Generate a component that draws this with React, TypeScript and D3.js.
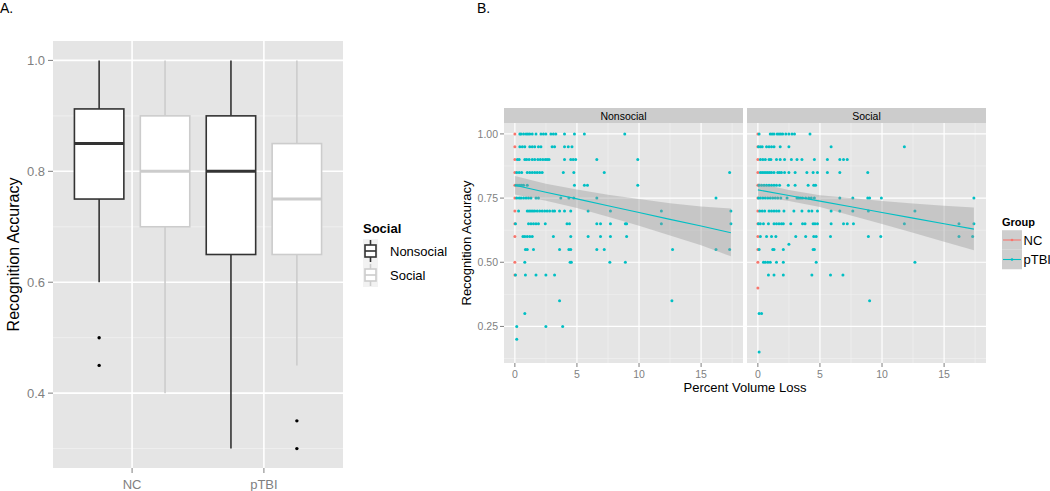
import React from "react";
import * as d3 from "d3";

// ---------- Panel A data (boxplots) ----------
const groupsA = ["NC", "pTBI"];
const socialLevels = ["Nonsocial", "Social"];
// order: NC-Nonsocial, NC-Social, pTBI-Nonsocial, pTBI-Social
const boxLow = [0.6, 0.4, 0.3, 0.45];
const boxQ1 = [0.75, 0.7, 0.65, 0.65];
const boxMed = [0.85, 0.8, 0.8, 0.75];
const boxQ3 = [0.9125, 0.9, 0.9, 0.85];
const boxHigh = [1.0, 1.0, 1.0, 1.0];
const boxOutliers = [[0.5, 0.45], [], [], [0.35, 0.3]];
const yTicksA = [0.4, 0.6, 0.8, 1.0];
const yMinorA = [0.3, 0.5, 0.7, 0.9];

// ---------- Panel B data (scatter) ----------
const facets = ["Nonsocial", "Social"];
const groupsB = ["NC", "pTBI"];
const nonsocialNC = [1.0, 0.95, 0.9, 0.85, 0.8, 0.75, 0.7, 0.65, 0.6, 0.5, 0.45];
const socialNC = [1.0, 0.95, 0.9, 0.85, 0.8, 0.75, 0.7, 0.65, 0.6, 0.55, 0.5, 0.4];
const nonsocialPTBI: [number, number[]][] = [
  [1.0, [0.4, 0.5, 0.7, 0.9, 1.05, 1.2, 1.4, 1.7, 2.1, 2.3, 2.5, 2.9, 3.1, 3.3, 4.0, 4.8, 5.6, 8.85]],
  [0.95, [0.4, 0.6, 0.8, 1.2, 1.4, 1.6, 1.9, 2.1, 3.0, 3.2, 4.0, 4.3, 4.6]],
  [0.9, [0.2, 0.35, 0.8, 0.95, 1.15, 1.4, 1.6, 1.85, 2.05, 2.25, 2.45, 2.6, 2.75, 4.0, 4.5, 4.7, 4.9, 6.6, 9.9]],
  [0.85, [0.15, 0.35, 0.55, 1.0, 1.2, 1.4, 1.6, 1.8, 2.0, 2.2, 3.9, 4.75, 7.2, 17.3]],
  [0.8, [0.1, 0.25, 0.4, 0.55, 0.7, 1.0, 4.8, 5.6, 5.85, 9.9]],
  [0.75, [0.15, 0.35, 0.5, 0.7, 0.9, 1.1, 1.3, 1.7, 1.9, 3.7, 4.35, 4.75, 6.6, 16.2]],
  [0.7, [0.3, 1.0, 1.15, 1.3, 1.45, 1.6, 1.8, 2.0, 2.2, 2.4, 2.6, 2.8, 3.05, 3.2, 3.6, 4.0, 4.5, 5.9, 7.7, 11.8, 17.4]],
  [0.65, [0.05, 1.1, 1.3, 1.5, 1.7, 1.9, 2.45, 4.2, 4.4, 6.6, 6.9, 7.7, 8.9, 9.0, 11.8, 17.4]],
  [0.6, [0.65, 0.8, 1.0, 1.2, 1.4, 3.1, 4.5, 5.9, 6.9, 7.7, 9.0]],
  [0.55, [0.85, 1.0, 1.5, 3.6, 4.35, 4.5, 6.6, 7.2, 12.7, 16.2, 17.3]],
  [0.5, [0.8, 4.45, 4.55, 7.65, 8.9]],
  [0.45, [0.05, 0.85, 1.7, 2.5, 3.2]],
  [0.35, [3.6, 12.65]],
  [0.3, [0.8]],
  [0.25, [0.15, 2.5, 3.85]],
  [0.2, [0.15]],
];
const socialPTBI: [number, number[]][] = [
  [1.0, [0.1, 1.0, 1.15, 1.3, 1.55, 1.7, 1.85, 2.0, 2.25, 2.5, 2.75, 2.95, 4.2]],
  [0.95, [0.05, 0.2, 0.35, 0.7, 0.9, 1.1, 1.3, 1.8, 2.5, 5.9, 11.8]],
  [0.9, [0.2, 0.4, 0.6, 0.9, 1.05, 1.5, 1.8, 2.15, 2.7, 3.15, 3.55, 4.55, 5.6, 6.6, 6.9, 7.2]],
  [0.85, [0.2, 0.35, 0.5, 0.65, 0.8, 0.95, 1.1, 1.3, 1.6, 1.75, 1.9, 2.15, 2.5, 3.0, 3.95, 4.45, 4.8, 5.6, 6.6, 8.85]],
  [0.8, [0.1, 0.3, 0.5, 0.7, 0.9, 1.1, 1.3, 1.5, 1.75, 2.45, 3.0, 4.05, 4.5, 4.65]],
  [0.75, [0.05, 0.2, 0.4, 0.6, 0.8, 1.0, 1.2, 1.4, 1.6, 1.85, 2.35, 3.15, 3.3, 3.45, 3.6, 3.85, 4.1, 4.3, 4.55, 6.6, 7.65, 8.85, 9.0, 9.95, 17.4]],
  [0.7, [0.15, 0.35, 0.55, 0.9, 1.1, 1.3, 1.5, 1.7, 2.1, 2.9, 3.55, 4.1, 4.35, 4.8, 5.9, 6.6, 7.65, 8.9, 12.65]],
  [0.65, [0.05, 0.2, 0.45, 0.85, 1.3, 1.5, 1.7, 1.9, 2.05, 2.65, 3.6, 3.8, 4.45, 4.6, 4.8, 5.9, 6.9, 7.2, 7.7, 11.8, 16.2, 17.4]],
  [0.6, [0.2, 0.7, 1.1, 1.45, 3.05, 3.85, 4.5, 4.7, 5.85, 8.9, 9.9, 16.2, 17.3]],
  [0.57, [2.5]],
  [0.55, [0.1, 1.2, 1.3, 2.05, 4.45, 4.55]],
  [0.5, [0.45, 0.6, 0.8, 1.0, 1.5, 2.05, 4.7, 12.65]],
  [0.45, [0.85, 1.3, 2.05, 4.35, 5.85, 6.85]],
  [0.35, [9.0]],
  [0.3, [0.1, 0.3]],
  [0.15, [0.1]],
];
// linear fit with 95% band (pTBI), read at these x positions
const fitX = [0, 2.5, 5, 7.5, 10, 12.5, 15, 17.4];
const nonsocialFit = [0.8, 0.773, 0.747, 0.72, 0.694, 0.667, 0.641, 0.615];
const nonsocialLo = [0.764, 0.74, 0.711, 0.677, 0.642, 0.604, 0.566, 0.523];
const nonsocialHi = [0.836, 0.806, 0.783, 0.763, 0.746, 0.73, 0.717, 0.709];
const socialFit = [0.782, 0.76, 0.738, 0.716, 0.694, 0.672, 0.65, 0.629];
const socialLo = [0.756, 0.739, 0.715, 0.682, 0.649, 0.615, 0.58, 0.547];
const socialHi = [0.808, 0.781, 0.761, 0.75, 0.739, 0.729, 0.72, 0.713];
const xTicksB = [0, 5, 10, 15];
const xMinorB = [2.5, 7.5, 12.5, 17.5];
const yTicksB = [0.25, 0.5, 0.75, 1.0];
const yMinorB = [0.125, 0.375, 0.625, 0.875];

const FONT = "'Liberation Sans', Arial, sans-serif";
const BG = "#E5E5E5";
const MINOR = "#F2F2F2";
const TICKC = "#7F7F7F";
const NC_COL = "#F8766D";
const PTBI_COL = "#00BFC4";

function PanelA() {
  const L = 53, R = 343, T = 41, B = 468;
  const y = d3.scaleLinear().domain([0.265, 1.035]).range([B, T]);
  const x = d3.scaleLinear().domain([0.4, 2.6]).range([L, R]);
  const dodge = 0.25, bw = 0.375;
  const boxes: React.ReactNode[] = [];
  groupsA.forEach((g, gi) => {
    socialLevels.forEach((s, si) => {
      const i = gi * 2 + si;
      const cx = x(gi + 1 + (si === 0 ? -dodge : dodge));
      const half = (x(bw) - x(0)) / 2;
      const col = si === 0 ? "#333333" : "#CCCCCC";
      boxes.push(
        <g key={g + s}>
          <line x1={cx} x2={cx} y1={y(boxHigh[i])} y2={y(boxQ3[i])} stroke={col} strokeWidth={1.6} />
          <line x1={cx} x2={cx} y1={y(boxQ1[i])} y2={y(boxLow[i])} stroke={col} strokeWidth={1.6} />
          <rect x={cx - half} y={y(boxQ3[i])} width={2 * half} height={y(boxQ1[i]) - y(boxQ3[i])} fill="#fff" stroke={col} strokeWidth={1.6} />
          <line x1={cx - half} x2={cx + half} y1={y(boxMed[i])} y2={y(boxMed[i])} stroke={col} strokeWidth={3} />
          {boxOutliers[i].map((o, k) => (
            <circle key={k} cx={cx} cy={y(o)} r={1.7} fill="#000" />
          ))}
        </g>
      );
    });
  });
  return (
    <g>
      <text x={0} y={13} fontSize={14} fontFamily={FONT}>A.</text>
      <rect x={L} y={T} width={R - L} height={B - T} fill={BG} />
      {yMinorA.map((v) => (
        <line key={"m" + v} x1={L} x2={R} y1={y(v)} y2={y(v)} stroke={MINOR} strokeWidth={0.8} />
      ))}
      {yTicksA.map((v) => (
        <line key={"g" + v} x1={L} x2={R} y1={y(v)} y2={y(v)} stroke="#fff" strokeWidth={1.6} />
      ))}
      {groupsA.map((g, i) => (
        <line key={"gx" + g} x1={x(i + 1)} x2={x(i + 1)} y1={T} y2={B} stroke="#fff" strokeWidth={1.6} />
      ))}
      {boxes}
      {yTicksA.map((v) => (
        <g key={"t" + v}>
          <line x1={L - 5} x2={L} y1={y(v)} y2={y(v)} stroke={TICKC} strokeWidth={1} />
          <text x={L - 8} y={y(v) + 4.5} textAnchor="end" fontSize={13} fill={TICKC} fontFamily={FONT}>{v.toFixed(1)}</text>
        </g>
      ))}
      {groupsA.map((g, i) => (
        <g key={"xt" + g}>
          <line x1={x(i + 1)} x2={x(i + 1)} y1={B} y2={B + 5} stroke={TICKC} strokeWidth={1} />
          <text x={x(i + 1)} y={488.5} textAnchor="middle" fontSize={13} fill={TICKC} fontFamily={FONT}>{g}</text>
        </g>
      ))}
      <text transform={`translate(18.5,${(T + B) / 2}) rotate(-90)`} textAnchor="middle" fontSize={16} fontFamily={FONT}>Recognition Accuracy</text>
      {/* legend */}
      <text x={363} y={233} fontSize={13} fontWeight="bold" fontFamily={FONT}>Social</text>
      {socialLevels.map((s, si) => {
        const cy = 251 + si * 24;
        const col = si === 0 ? "#333333" : "#CCCCCC";
        return (
          <g key={"lg" + s}>
            <rect x={363} y={cy - 12} width={15} height={24} fill={MINOR} />
            <line x1={370.5} x2={370.5} y1={cy - 11} y2={cy + 11} stroke={col} strokeWidth={1.6} />
            <rect x={365} y={cy - 6} width={11} height={12} fill="#fff" stroke={col} strokeWidth={1.6} />
            <line x1={365} x2={376} y1={cy} y2={cy} stroke={col} strokeWidth={1.6} />
            <text x={390} y={cy + 5} fontSize={13} fontFamily={FONT}>{s}</text>
          </g>
        );
      })}
    </g>
  );
}

function Facet({ L, R, name, nc, ptbi, fit, lo, hi, showY }: any) {
  const T = 123, B = 363, ST = 108;
  const x = d3.scaleLinear().domain([-0.875, 18.375]).range([L, R]);
  const y = d3.scaleLinear().domain([0.1075, 1.0425]).range([B, T]);
  const area = d3
    .area<number>()
    .x((_, i) => x(fitX[i]))
    .y0((_, i) => y(lo[i]))
    .y1((_, i) => y(hi[i]));
  const line = d3
    .line<number>()
    .x((_, i) => x(fitX[i]))
    .y((d) => y(d));
  return (
    <g>
      <rect x={L} y={ST} width={R - L} height={T - ST} fill="#CCCCCC" />
      <text x={(L + R) / 2} y={119.5} textAnchor="middle" fontSize={10.5} fontFamily={FONT}>{name}</text>
      <rect x={L} y={T} width={R - L} height={B - T} fill={BG} />
      {yMinorB.map((v) => (
        <line key={"ym" + v} x1={L} x2={R} y1={y(v)} y2={y(v)} stroke={MINOR} strokeWidth={0.6} />
      ))}
      {xMinorB.map((v) => (
        <line key={"xm" + v} x1={x(v)} x2={x(v)} y1={T} y2={B} stroke={MINOR} strokeWidth={0.6} />
      ))}
      {yTicksB.map((v) => (
        <line key={"yg" + v} x1={L} x2={R} y1={y(v)} y2={y(v)} stroke="#fff" strokeWidth={1.2} />
      ))}
      {xTicksB.map((v) => (
        <line key={"xg" + v} x1={x(v)} x2={x(v)} y1={T} y2={B} stroke="#fff" strokeWidth={1.2} />
      ))}
      {nc.map((v: number, i: number) => (
        <circle key={"nc" + i} cx={x(0)} cy={y(v)} r={1.5} fill={NC_COL} />
      ))}
      {ptbi.map(([yv, xs]: [number, number[]]) =>
        xs.map((xv, k) => <circle key={"p" + yv + "_" + k} cx={x(xv)} cy={y(yv)} r={1.5} fill={PTBI_COL} />)
      )}
      <path d={area(fit) || ""} fill="#999999" fillOpacity={0.4} />
      <path d={line(fit) || ""} fill="none" stroke={PTBI_COL} strokeWidth={1.1} />
      {xTicksB.map((v) => (
        <g key={"xt" + v}>
          <line x1={x(v)} x2={x(v)} y1={B} y2={B + 4} stroke={TICKC} strokeWidth={1} />
          <text x={x(v)} y={378} textAnchor="middle" fontSize={10.5} fill={TICKC} fontFamily={FONT}>{v}</text>
        </g>
      ))}
      {showY &&
        yTicksB.map((v) => (
          <g key={"yt" + v}>
            <line x1={L - 4} x2={L} y1={y(v)} y2={y(v)} stroke={TICKC} strokeWidth={1} />
            <text x={L - 6} y={y(v) + 3.8} textAnchor="end" fontSize={10.5} fill={TICKC} fontFamily={FONT}>{v.toFixed(2)}</text>
          </g>
        ))}
    </g>
  );
}

function PanelB() {
  return (
    <g>
      <text x={477} y={13} fontSize={14} fontFamily={FONT}>B.</text>
      <Facet L={504} R={743} name={facets[0]} nc={nonsocialNC} ptbi={nonsocialPTBI} fit={nonsocialFit} lo={nonsocialLo} hi={nonsocialHi} showY={true} />
      <Facet L={747} R={986} name={facets[1]} nc={socialNC} ptbi={socialPTBI} fit={socialFit} lo={socialLo} hi={socialHi} showY={false} />
      <text x={745} y={392} textAnchor="middle" fontSize={13} fontFamily={FONT}>Percent Volume Loss</text>
      <text transform="translate(471,243) rotate(-90)" textAnchor="middle" fontSize={13} fontFamily={FONT}>Recognition Accuracy</text>
      <text x={1002} y={226} fontSize={11} fontWeight="bold" fontFamily={FONT}>Group</text>
      {groupsB.map((g, i) => {
        const cy = 240 + i * 19.5;
        const col = i === 0 ? NC_COL : PTBI_COL;
        return (
          <g key={"lb" + g}>
            <rect x={1002} y={cy - 9.75} width={20} height={19.5} fill={MINOR} />
            <rect x={1002} y={cy - 9.75} width={20} height={19.5} fill="#999999" fillOpacity={0.4} />
            <line x1={1003} x2={1021} y1={cy} y2={cy} stroke={col} strokeWidth={1.1} />
            <circle cx={1012} cy={cy} r={1.3} fill={col} />
            <text x={1023.5} y={cy + 4.5} fontSize={13} fontFamily={FONT}>{g}</text>
          </g>
        );
      })}
    </g>
  );
}

export default function App() {
  return (
    <svg width={1050} height={491} style={{ position: "absolute", left: 0, top: 0, background: "#fff" }}>
      <rect x={0} y={0} width={1050} height={491} fill="#fff" />
      <PanelA />
      <PanelB />
    </svg>
  );
}
